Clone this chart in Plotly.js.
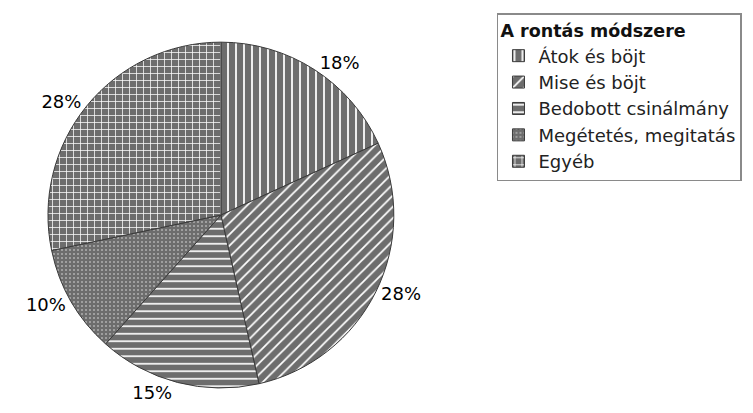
<!DOCTYPE html>
<html>
<head>
<meta charset="utf-8">
<script src="https://cdn.plot.ly/plotly-3.0.1.min.js"></script>
<style>html,body{margin:0;padding:0;background:#fff;}#chart{width:753px;height:413px;}</style>
</head>
<body>
<div id="chart"></div>
<script>
const legendTitle = 'A rontás módszere';
const labels = ['Átok és böjt', 'Mise és böjt', 'Bedobott csinálmány', 'Megétetés, megitatás', 'Egyéb'];
const values = [18, 28, 15, 10, 28];
const patternShapes = ['|', '/', '-', '.', '+'];
const patternSizes = [8, 8, 7.5, 4, 7];
const patternSolidity = [0.22, 0.22, 0.22, 0.2, 0.2];

const gray = '#6d6d6d';
const fontFam = 'DejaVu Sans, Verdana, sans-serif';
const trace = {
  type: 'pie',
  labels: labels,
  values: values,
  sort: false,
  direction: 'clockwise',
  rotation: 0,
  textposition: 'outside',
  texttemplate: '%{value}%',
  hoverinfo: 'label+value',
  textfont: {family: fontFam, size: 18, color: '#000'},
  marker: {
    colors: labels.map(() => gray),
    line: {color: '#3a3a3a', width: 1},
    pattern: {
      shape: patternShapes,
      size: patternSizes,
      solidity: patternSolidity,
      fgcolor: ['#ffffff', '#ffffff', '#ffffff', '#b0b0b0', '#ffffff'],
      bgcolor: gray,
      fillmode: 'replace'
    }
  },
  domain: {x: [0.0637, 0.523], y: [0.0605, 0.898]}
};

const layout = {
  width: 753,
  height: 413,
  margin: {l: 0, r: 0, t: 0, b: 0},
  paper_bgcolor: '#fff',
  showlegend: true,
  legend: {
    x: 0.66, xanchor: 'left',
    y: 0.968, yanchor: 'top',
    bordercolor: '#8a8a8a',
    borderwidth: 1.5,
    bgcolor: '#fff',
    itemwidth: 30,
    font: {family: fontFam, size: 18, color: '#222'},
    title: {text: '<b>' + legendTitle + '</b>', font: {family: fontFam, size: 17.5, color: '#111'}},
    traceorder: 'normal'
  }
};

Plotly.newPlot('chart', [trace], layout, {displayModeBar: false, staticPlot: true});
</script>
</body>
</html>
